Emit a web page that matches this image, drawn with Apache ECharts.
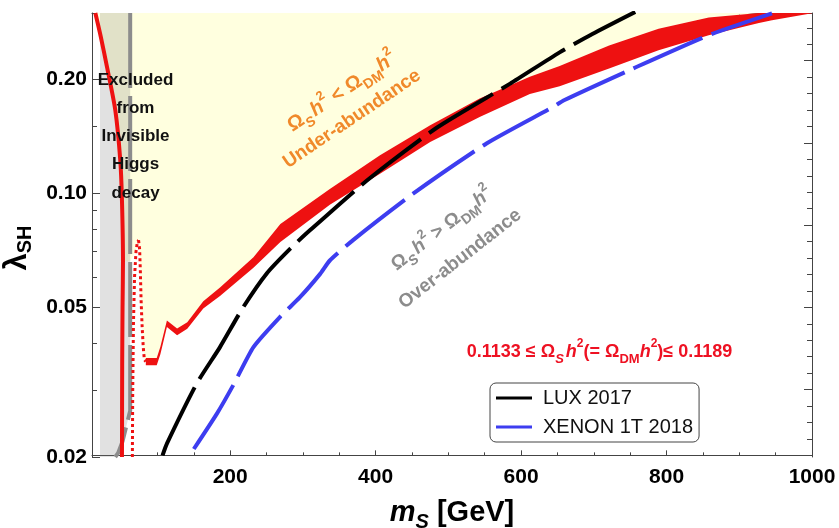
<!DOCTYPE html>
<html><head><meta charset="utf-8">
<script src="https://cdn.jsdelivr.net/npm/echarts@6/dist/echarts.min.js"></script>
<style>html,body{margin:0;padding:0;background:#fff}#c{width:839px;height:528px}</style>
</head><body><div id="c"></div>
<script>
// ---------- data (m_S in GeV, lambda_SH) ----------
const xRange = [10, 1000];
const yRange = [0.02, 0.3];

const xMajorTicks = [200, 400, 600, 800, 1000];
const xMinorTicks = [50, 100, 150, 250, 300, 350, 450, 500, 550, 650, 700, 750, 850, 900, 950];
const xTopTicks = [50, 100, 150, 200, 250, 300, 350, 400, 450, 500, 550, 600, 650, 700, 750, 800, 850, 900, 950];
const yMajorTicks = [0.02, 0.05, 0.1, 0.2];
const yMinorTicks = [0.03, 0.04, 0.06, 0.07, 0.08, 0.09, 0.15];
const rightMajorTicks = [4, 9, 14, 19, 24];
const rightMinorTicks = [0, 1, 2, 3, 5, 6, 7, 8, 10, 11, 12, 13, 15, 16, 17, 18, 20, 21, 22, 23, 25, 26];

// relic-density curve, low-mass branch (solid)
const redLeftBranch = [[14.6, 0.3], [22, 0.26], [30.6, 0.216], [42, 0.166], [48.9, 0.122], [51.2, 0.0957], [52.6, 0.066], [52, 0.05], [51.5, 0.035], [51.2, 0.02]];
// Higgs-resonance dip (dotted)
const redResonanceLeft = [[65.5, 0.02], [66, 0.03], [67, 0.045], [68.5, 0.06], [70.5, 0.07], [72.5, 0.0745], [74, 0.075]];
const redResonanceRight = [[74, 0.075], [75.5, 0.071], [76.5, 0.062], [77.5, 0.052], [79, 0.044], [80.5, 0.039], [82, 0.0362], [84, 0.0358]];
// relic band 0.1133 <= Omega h^2 <= 0.1189
const bandX = [84, 99, 104, 113, 127, 141, 163, 186, 232, 269, 337, 406, 475, 543, 612, 653, 721, 789, 858, 927, 945, 1000];
const bandUpper = [0.0366, 0.0366, 0.0392, 0.0460, 0.0438, 0.0455, 0.0517, 0.0562, 0.0676, 0.0828, 0.1025, 0.1260, 0.1513, 0.1780, 0.2035, 0.2170, 0.2460, 0.2727, 0.2919, 0.3000, 0.3030, 0.3030];
const bandLower = [0.0350, 0.0350, 0.0374, 0.0442, 0.0420, 0.0437, 0.0495, 0.0534, 0.0634, 0.0742, 0.0932, 0.1126, 0.1365, 0.1590, 0.1830, 0.1920, 0.2138, 0.2390, 0.2619, 0.2824, 0.2870, 0.2995];
// direct detection limits
const lux2017 = [[107, 0.0202], [113, 0.0217], [154, 0.0313], [186, 0.0391], [218, 0.0499], [250, 0.0612], [283, 0.0714], [310, 0.0798], [388, 0.108], [484, 0.149], [585, 0.195], [653, 0.236], [698, 0.264], [757, 0.302]];
const xenon1t2018 = [[150, 0.021], [182, 0.0261], [205, 0.0312], [232, 0.0391], [269, 0.0471], [296, 0.053], [324, 0.0612], [337, 0.0663], [369, 0.0751], [452, 0.0998], [553, 0.1356], [644, 0.1692], [659, 0.1762], [753, 0.2134], [858, 0.262], [945, 0.2993]];
// invisible Higgs decay bound
const higgsBoundary = [[62.5, 0.3], [62.5, 0.0265], [58, 0.0245], [52, 0.022], [46, 0.0205], [42, 0.02]];
const excludedLeftEdge = [[21, 0.02], [21, 0.3]];

// ---------- derived shapes ----------
const bandPolygon = bandX.map((x, i) => [x, bandUpper[i]]).concat(bandX.map((x, i) => [x, bandLower[i]]).reverse());
const underAbundance = redLeftBranch.slice(0, 7)
  .concat([[62.5, 0.066]], redResonanceLeft.slice(4), redResonanceRight.slice(1))
  .concat(bandX.map((x, i) => [x, bandUpper[i]]))
  .concat([[1000, 0.31], [14.6, 0.31]]);
const excludedRegion = higgsBoundary.concat(excludedLeftEdge);

const FONT = '"Liberation Sans", Arial, sans-serif';

function polygon(name, pts, fill, z) {
  return {
    type: 'custom', name: name, z: z, silent: true, clip: true,
    data: [pts[0]],
    renderItem: function (p, api) {
      return { type: 'polygon', shape: { points: pts.map(function (q) { return api.coord(q); }) }, style: { fill: fill } };
    }
  };
}
function lineSeries(name, pts, color, width, type, z, smooth) {
  return {
    type: 'line', name: name, data: pts, z: z, showSymbol: false, symbol: 'none', silent: true,
    smooth: smooth || false,
    itemStyle: { color: color },
    lineStyle: { color: color, width: width, type: type, cap: 'butt', join: 'round' },
    animation: false
  };
}
function formulaRich(size, color) {
  const sub = Math.round(size * 0.72), sup = Math.round(size * 0.66);
  return {
    o: { fontSize: size, fontWeight: 'bold', fontFamily: FONT, fill: color, color: color, lineHeight: size + 10, verticalAlign: 'middle' },
    hi: { fontSize: size, fontWeight: 'bold', fontStyle: 'italic', fontFamily: FONT, fill: color, color: color, lineHeight: size + 10, verticalAlign: 'middle' },
    si: { fontSize: sub, fontWeight: 'bold', fontStyle: 'italic', fontFamily: FONT, fill: color, color: color, lineHeight: sub, verticalAlign: 'bottom', padding: [0, 2, 0, 0] },
    s: { fontSize: sub, fontWeight: 'bold', fontFamily: FONT, fill: color, color: color, lineHeight: sub, verticalAlign: 'bottom' },
    sp: { fontSize: sup, fontWeight: 'bold', fontFamily: FONT, fill: color, color: color, lineHeight: sup, verticalAlign: 'top' }
  };
}
function textEl(text, x, y, rotDeg, size, color) {
  return {
    type: 'text', x: x, y: y, rotation: rotDeg * Math.PI / 180, z: 100, silent: true,
    style: { text: text, rich: formulaRich(size, color), fill: color, align: 'center', verticalAlign: 'middle',
      fontSize: size, fontWeight: 'bold', fontFamily: FONT }
  };
}

const axisLine = { show: true, lineStyle: { color: '#444', width: 1 } };
const hidden = { show: false };

const option = {
  animation: false,
  backgroundColor: '#fff',
  grid: { left: 92, right: 27, top: 13, bottom: 71, containLabel: false, outerBoundsMode: 'none' },
  xAxis: [
    { type: 'value', min: xRange[0], max: xRange[1], position: 'bottom',
      name: '{m|m}{s|S}{t| [GeV]}', nameLocation: 'middle', nameGap: 37,
      nameTextStyle: { rich: {
        m: { fontSize: 29, fontWeight: 'bold', fontStyle: 'italic', fontFamily: FONT, color: '#000', lineHeight: 38, verticalAlign: 'middle' },
        s: { fontSize: 20, fontWeight: 'bold', fontStyle: 'italic', fontFamily: FONT, color: '#000', lineHeight: 20, verticalAlign: 'bottom' },
        t: { fontSize: 29, fontWeight: 'bold', fontFamily: FONT, color: '#000', lineHeight: 38, verticalAlign: 'middle' } } },
      axisLine: axisLine,
      axisTick: { show: true, inside: true, length: 5, customValues: xMajorTicks, lineStyle: { color: '#444' } },
      axisLabel: { show: true, customValues: xMajorTicks, fontSize: 21, fontWeight: 'bold', fontFamily: FONT, color: '#000', margin: 10,
        formatter: function (v) { return String(Math.round(v)); } },
      splitLine: hidden },
    { type: 'value', min: xRange[0], max: xRange[1], position: 'bottom',
      axisLine: hidden, axisLabel: hidden, splitLine: hidden,
      axisTick: { show: true, inside: true, length: 3, customValues: xMinorTicks, lineStyle: { color: '#444' } } },
    { type: 'value', min: xRange[0], max: xRange[1], position: 'top',
      axisLine: axisLine, axisLabel: hidden, splitLine: hidden,
      axisTick: { show: true, inside: true, length: 4, customValues: xTopTicks, lineStyle: { color: '#444' } } }
  ],
  yAxis: [
    { type: 'log', logBase: 10, min: yRange[0], max: yRange[1], position: 'left',
      name: '{l|λ}{s|SH}', nameLocation: 'middle', nameGap: 52, nameRotate: 90,
      nameTextStyle: { padding: [0, 26, 0, 0], rich: {
        l: { fontSize: 31, fontWeight: 'bold', fontFamily: FONT, color: '#000', lineHeight: 36, verticalAlign: 'middle' },
        s: { fontSize: 20, fontWeight: 'bold', fontFamily: FONT, color: '#000', lineHeight: 20, verticalAlign: 'bottom' } } },
      axisLine: axisLine,
      axisTick: { show: true, inside: true, length: 8, customValues: yMajorTicks, lineStyle: { color: '#444' } },
      axisLabel: { show: true, customValues: yMajorTicks, fontSize: 21, fontWeight: 'bold', fontFamily: FONT, color: '#000', margin: 5,
        formatter: function (v) { return Number(v).toFixed(2); } },
      splitLine: hidden },
    { type: 'log', logBase: 10, min: yRange[0], max: yRange[1], position: 'left',
      axisLine: hidden, axisLabel: hidden, splitLine: hidden,
      axisTick: { show: true, inside: true, length: 5, customValues: yMinorTicks, lineStyle: { color: '#444' } } },
    { type: 'value', min: -0.1, max: 26.9, position: 'right',
      axisLine: axisLine, axisLabel: hidden, splitLine: hidden,
      axisTick: { show: true, inside: true, length: 8, customValues: rightMajorTicks, lineStyle: { color: '#444' } } },
    { type: 'value', min: -0.1, max: 26.9, position: 'right',
      axisLine: hidden, axisLabel: hidden, splitLine: hidden,
      axisTick: { show: true, inside: true, length: 5, customValues: rightMinorTicks, lineStyle: { color: '#444' } } }
  ],
  legend: {
    left: 490, top: 383, orient: 'vertical', icon: 'rect', itemWidth: 36, itemHeight: 3, itemGap: 9,
    padding: [5, 6, 5, 6], borderColor: '#444', borderWidth: 1, borderRadius: 6, backgroundColor: '#fff',
    textStyle: { fontSize: 20, fontFamily: FONT, color: '#111', padding: [0, 0, 0, 6] },
    data: ['LUX 2017', 'XENON 1T 2018'], selectedMode: false
  },
  series: [
    polygon('under-abundance', underAbundance, '#ffffdf', 1),
    polygon('excluded', excludedRegion, 'rgba(120,120,120,0.22)', 2),
    lineSeries('invisible Higgs', higgsBoundary, '#8c8c8c', 4, [75, 8], 3, false),
    polygon('relic band', bandPolygon, '#ee1111', 4),
    lineSeries('relic left', redLeftBranch, '#ee1111', 4, 'solid', 4, 0.25),
    lineSeries('relic res L', redResonanceLeft, '#ee1111', 3, [3, 3], 4, false),
    lineSeries('relic res R', redResonanceRight, '#ee1111', 3, [3, 3], 4, false),
    lineSeries('LUX 2017', lux2017, '#000000', 4, [75, 10], 6, 0.2),
    lineSeries('XENON 1T 2018', xenon1t2018, '#3d3df0', 4, [75, 10], 6, 0.2)
  ],
  graphic: [
    { type: 'text', x: 135.5, y: 136.5, z: 100, silent: true,
      style: { text: 'Excluded\nfrom\nInvisible\nHiggs\ndecay', align: 'center', verticalAlign: 'middle',
        fontSize: 17, fontWeight: 'bold', fontFamily: FONT, lineHeight: 28.3, fill: '#111' } },
    textEl('{o|Ω}{si|S}{hi|h}{sp|2}{o| < Ω}{s|DM}{hi|h}{sp|2}', 342, 92, 34, 20, '#f0892a'),
    textEl('{o|Under-abundance}', 352, 119, 34, 19, '#f0892a'),
    textEl('{o|Ω}{si|S}{hi|h}{sp|2}{o| > Ω}{s|DM}{hi|h}{sp|2}', 442, 229, 38, 19, '#8c8c8c'),
    textEl('{o|Over-abundance}', 460, 259, 38, 19, '#8c8c8c'),
    textEl('{o|0.1133 ≤ Ω}{si|S}{hi|h}{sp|2}{o|(= Ω}{s|DM}{hi|h}{sp|2}{o|)≤ 0.1189}', 599.5, 352, 0, 18, '#ee1122')
  ]
};
const chart = echarts.init(document.getElementById('c'), null, { renderer: 'canvas' });
chart.setOption(option);
</script></body></html>
